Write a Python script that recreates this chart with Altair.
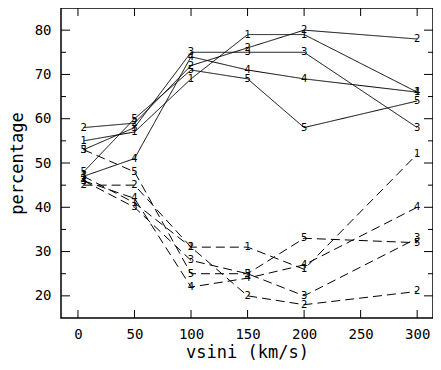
import altair as alt
import pandas as pd

# ---- data ----
vsini = [5, 50, 100, 150, 200, 300]
series_names = ["1", "2", "3", "4", "5"]

solid_1 = [55, 57, 69, 79, 79, 66]
solid_2 = [58, 59, 72, 76, 80, 78]
solid_3 = [53, 58, 75, 75, 75, 58]
solid_4 = [47, 51, 74, 71, 69, 66]
solid_5 = [48, 60, 71, 69, 58, 64]

dashed_1 = [47, 41, 31, 31, 26, 52]
dashed_2 = [45, 45, 31, 20, 18, 21]
dashed_3 = [46, 40, 28, 25, 20, 33]
dashed_4 = [46, 42, 22, 24, 27, 40]
dashed_5 = [53, 48, 25, 25, 33, 32]

x_tick_values = [0, 50, 100, 150, 200, 250, 300]
y_major_values = [20, 30, 40, 50, 60, 70, 80]
y_minor_values = [25, 35, 45, 55, 65, 75]

solid = [solid_1, solid_2, solid_3, solid_4, solid_5]
dashed = [dashed_1, dashed_2, dashed_3, dashed_4, dashed_5]

rows = []
for kind, group in (("solid", solid), ("dashed", dashed)):
    for name, vals in zip(series_names, group):
        for xv, yv in zip(vsini, vals):
            rows.append({"x": xv, "y": yv, "series": name, "kind": kind,
                         "grp": kind + name})
df = pd.DataFrame(rows)

W, H = 372, 310
xs = alt.Scale(domain=[-15, 314], nice=False, zero=False)
ys = alt.Scale(domain=[15, 85], nice=False, zero=False)

axis_x = alt.Axis(values=x_tick_values, ticks=False, domain=False, grid=False,
                  labelPadding=9, titlePadding=3, labelFlush=False)
axis_y = alt.Axis(values=y_major_values, ticks=False, domain=False, grid=False,
                  labelPadding=10, titlePadding=8)

X = alt.X("x:Q", scale=xs, axis=axis_x, title="vsini (km/s)")
Y = alt.Y("y:Q", scale=ys, axis=axis_y, title="percentage")

lines = alt.Chart(df).mark_line(color="black", strokeWidth=1).encode(
    x=X, y=Y, detail="grp:N",
    strokeDash=alt.StrokeDash("kind:N",
                              scale=alt.Scale(domain=["solid", "dashed"],
                                              range=[[1, 0], [9, 5]]),
                              legend=None),
    order="x:Q",
)

labels = alt.Chart(df).mark_text(font="DejaVu Sans", fontSize=10,
                                 color="black").encode(
    x=X, y=Y, text="series:N")

xt = pd.DataFrame({"x": x_tick_values})
ymaj = pd.DataFrame({"y": y_major_values})
ymin = pd.DataFrame({"y": y_minor_values})

tick_bottom = alt.Chart(xt).mark_rule(color="black").encode(
    x=X, y=alt.value(H), y2=alt.value(H - 8))
tick_top = alt.Chart(xt).mark_rule(color="black").encode(
    x=X, y=alt.value(0), y2=alt.value(8))
tick_left_maj = alt.Chart(ymaj).mark_rule(color="black").encode(
    y=Y, x=alt.value(0), x2=alt.value(9))
tick_left_min = alt.Chart(ymin).mark_rule(color="black").encode(
    y=Y, x=alt.value(0), x2=alt.value(5))
tick_right_maj = alt.Chart(ymaj).mark_rule(color="black").encode(
    y=Y, x=alt.value(W), x2=alt.value(W - 9))
tick_right_min = alt.Chart(ymin).mark_rule(color="black").encode(
    y=Y, x=alt.value(W), x2=alt.value(W - 5))

chart = alt.layer(
    lines, labels, tick_bottom, tick_top, tick_left_maj, tick_left_min,
    tick_right_maj, tick_right_min
).properties(
    width=W, height=H,
    padding={"left": 53, "top": 0, "right": 0, "bottom": 44},
    autosize=alt.AutoSizeParams(type="none"),
).configure_view(
    stroke="black", strokeWidth=1.5
).configure_axis(
    labelFont="DejaVu Sans Mono", labelFontSize=14, labelColor="black",
    titleFont="DejaVu Sans Mono", titleFontSize=17, titleColor="black",
    titleFontWeight="normal",
)

chart.save("out.html", embed_options={"renderer": "svg", "actions": False})
